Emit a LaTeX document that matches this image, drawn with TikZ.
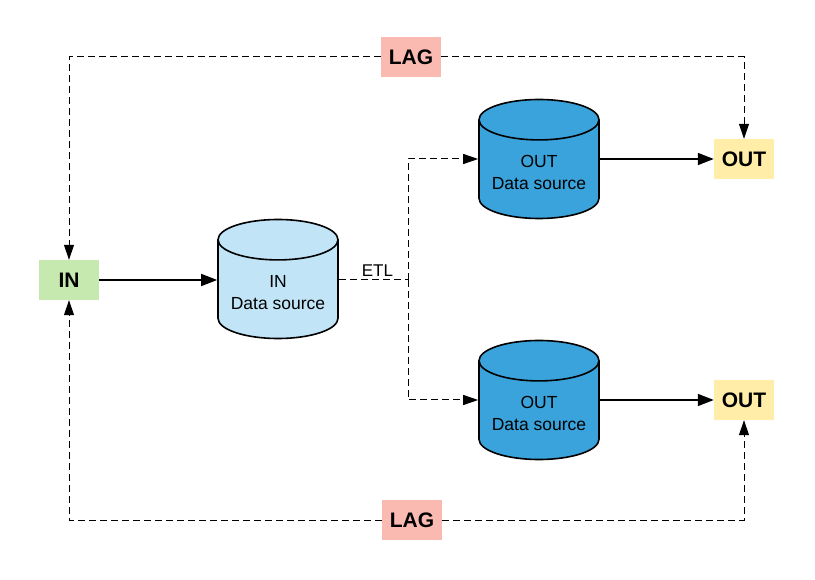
\documentclass[tikz,border=0pt]{standalone}
\usepackage{fontspec}
\setmainfont{Liberation Sans}
\usetikzlibrary{shapes.geometric,arrows.meta}
\definecolor{ingreen}{HTML}{C6E9B0}
\definecolor{inblue}{HTML}{C1E4F7}
\definecolor{outblue}{HTML}{3AA3DC}
\definecolor{outyellow}{HTML}{FFEDA8}
\definecolor{lagred}{HTML}{FBBAB1}
\begin{document}
\begin{tikzpicture}[x = 1pt, y = -1pt,
		tag/.style = {minimum width = 60pt, minimum height = 40pt, inner sep = 0pt, font = \fontsize{21}{24}\selectfont\bfseries},
		store/.style = {cylinder, shape border rotate = 90, aspect = 0.4, draw, line width = 1.6pt, minimum width = 120pt, minimum height = 119pt, align = center, anchor = shape center, font = \fontsize{17.5}{22}\selectfont},
		flow/.style = {-{Triangle[length = 16pt, width = 12pt]}, line width = 1.6pt},
		etl/.style = {dash pattern = on 7pt off 4pt, line width = 1pt},
		lagline/.style = {etl, -{Triangle[length = 15pt, width = 10pt]}}]
	\useasboundingbox[fill = white] (0, 0) rectangle (815, 580);
	% labels at the ends
	\node[tag, fill = ingreen]   (in)   at (69, 280)  {IN};
	\node[tag, fill = outyellow] (outx) at (744, 159) {OUT};
	\node[tag, fill = outyellow] (outy) at (744, 400) {OUT};
	\node[tag, fill = lagred]    (lagt) at (411, 57)  {LAG};
	\node[tag, fill = lagred]    (lagb) at (412, 520) {LAG};
	% data sources
	\node[store, fill = inblue]  (ins)  at (278, 279) {IN\\Data source};
	\node[store, fill = outblue] (outa) at (539, 159) {OUT\\Data source};
	\node[store, fill = outblue] (outb) at (539, 400) {OUT\\Data source};
	\coordinate (split) at (408, 280);
	% solid flows
	\draw[flow] (in) -- (in -| ins.west);
	\draw[flow] (outa.east |- outx) -- (outx);
	\draw[flow] (outb.east |- outy) -- (outy);
	% the ETL step
	\draw[etl] (ins.east |- split) -- node[above, xshift = 4pt, font = \fontsize{17}{20}\selectfont] {ETL} (split);
	\draw[lagline] (split) |- (outa.west |- outx);
	\draw[lagline] (split) |- (outb.west |- outy);
	% lag loops
	\draw[lagline] (lagt) -| (in);
	\draw[lagline] (lagt) -| (outx);
	\draw[lagline] (lagb) -| (in);
	\draw[lagline] (lagb) -| (outy);
\end{tikzpicture}
\end{document}
